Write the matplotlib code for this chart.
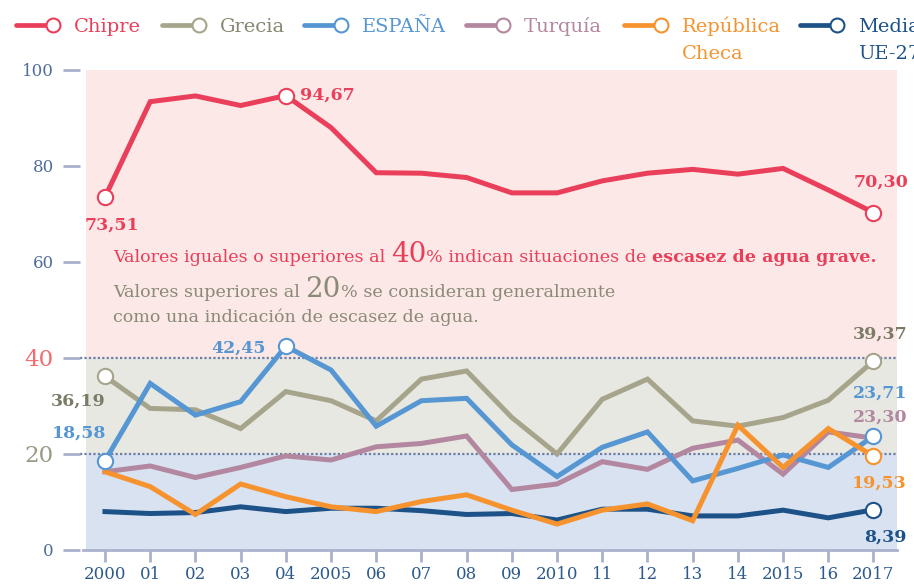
import matplotlib
matplotlib.use('Agg')
from matplotlib import pyplot as plt
from matplotlib.lines import Line2D
from matplotlib.transforms import IdentityTransform
import numpy as np

# datos
years = np.arange(2000, 2018)
year_labels = ['2000', '01', '02', '03', '04', '2005', '06', '07', '08', '09',
               '2010', '11', '12', '13', '14', '2015', '16', '2017']

chipre = [73.51, 93.4, 94.6, 92.6, 94.67, 88.0, 78.6, 78.5, 77.6, 74.4,
          74.4, 76.9, 78.5, 79.3, 78.3, 79.5, 75.0, 70.30]
grecia = [36.19, 29.5, 29.2, 25.3, 33.0, 31.1, 26.9, 35.6, 37.3, 27.6,
          20.0, 31.4, 35.6, 26.9, 25.8, 27.6, 31.2, 39.37]
espana = [18.58, 34.7, 28.1, 30.9, 42.45, 37.5, 25.8, 31.1, 31.6, 21.9,
          15.3, 21.4, 24.6, 14.4, 17.0, 19.8, 17.2, 23.71]
turquia = [16.3, 17.5, 15.1, 17.2, 19.6, 18.75, 21.5, 22.2, 23.75, 12.6,
           13.75, 18.4, 16.8, 21.2, 22.9, 15.8, 24.6, 23.30]
checa = [16.3, 13.2, 7.4, 13.75, 11.1, 9.0, 8.0, 10.1, 11.5, 8.3,
         5.4, 8.3, 9.6, 6.1, 26.0, 17.2, 25.3, 19.53]
media = [8.0, 7.6, 7.8, 9.0, 8.0, 8.7, 8.7, 8.2, 7.4, 7.6,
         6.25, 8.5, 8.5, 7.1, 7.1, 8.3, 6.7, 8.39]

C_RED = '#ea3f5a'
C_GRE = '#a6a58c'
C_ESP = '#5696d2'
C_TUR = '#b3879f'
C_CHE = '#f7932f'
C_MED = '#1d5289'

SERIF = ['DejaVu Serif']

W, H = 914, 584
fig = plt.figure(figsize=(W / 100, H / 100), dpi=100)
ax = fig.add_axes([86 / W, (H - 550) / H, (897 - 86) / W, 480 / H])

# zonas de fondo
ax.axhspan(40, 100, color='#fce8e6', zorder=0, lw=0)
ax.axhspan(20, 40, color='#e8e8e2', zorder=0, lw=0)
ax.axhspan(0, 20, color='#d8e2f0', zorder=0, lw=0)
for yv in (20, 40):
    ax.axhline(yv, xmin=-0.008, xmax=1, color='#6d7fa6', lw=1.6,
               ls=(0, (1, 1)), clip_on=False, zorder=1)
ax.axhline(0, xmin=-0.004, xmax=1, color='#aab1cc', lw=2, clip_on=False, zorder=1)

# series: (valores, color, índices con marcador)
series = [
    (grecia, C_GRE, [0, 17]),
    (turquia, C_TUR, []),
    (espana, C_ESP, [0, 4, 17]),
    (media, C_MED, [17]),
    (checa, C_CHE, [17]),
    (chipre, C_RED, [0, 4, 17]),
]
for i, (vals, col, marks) in enumerate(series):
    ax.plot(years, vals, color=col, lw=3.6, solid_joinstyle='miter', zorder=3 + i)
    vals = np.array(vals)
    ax.plot(years[marks], vals[marks], ls='none', marker='o', ms=11,
            mfc='white', mec=col, mew=1.5, zorder=10 + i)

ax.set_xlim(1999.58, 2017.52)
ax.set_ylim(0, 100)
for s in ax.spines.values():
    s.set_visible(False)
ax.spines['left'].set_position(('outward', 4.3))

ax.set_yticks([0, 20, 40, 60, 80, 100])
ax.set_yticklabels(['0', '20', '40', '60', '80', '100'])
ax.set_xticks(years)
ax.set_xticklabels(year_labels)
ax.tick_params(axis='y', length=12, width=2, color='#aab1cc', pad=7,
               labelsize=12, labelcolor='#4f6d9c')
ax.tick_params(axis='x', length=8.6, width=2, color='#aab1cc', pad=3,
               labelsize=12, labelcolor='#2c5a8c')
for lab in ax.get_yticklabels() + ax.get_xticklabels():
    lab.set_family(SERIF)
ylabs = ax.get_yticklabels()
ylabs[1].set_color('#9b9a86')
ylabs[1].set_fontsize(16.5)
ylabs[2].set_color('#f26b6e')
ylabs[2].set_fontsize(16.5)

# etiquetas de valores
def px(x, y):
    return x, H - y

lab_kw = dict(family=SERIF, fontweight='bold', fontsize=12.5,
              transform=IdentityTransform())
fig.text(*px(112, 225), '73,51', color=C_RED, ha='center', va='center', **lab_kw)
fig.text(*px(300, 95), '94,67', color=C_RED, ha='left', va='center', **lab_kw)
fig.text(*px(881, 182), '70,30', color=C_RED, ha='center', va='center', **lab_kw)
fig.text(*px(106, 401), '36,19', color='#7b7b68', ha='right', va='center', **lab_kw)
fig.text(*px(106, 433), '18,58', color=C_ESP, ha='right', va='center', **lab_kw)
fig.text(*px(266, 348), '42,45', color=C_ESP, ha='right', va='center', **lab_kw)
fig.text(*px(907, 334), '39,37', color='#7b7b68', ha='right', va='center', **lab_kw)
fig.text(*px(907, 393), '23,71', color=C_ESP, ha='right', va='center', **lab_kw)
fig.text(*px(907, 417), '23,30', color=C_TUR, ha='right', va='center', **lab_kw)
fig.text(*px(907, 483), '19,53', color=C_CHE, ha='right', va='center', **lab_kw)
fig.text(*px(907, 537), '8,39', color=C_MED, ha='right', va='center', **lab_kw)

# texto explicativo en trozos
renderer = fig.canvas.get_renderer()

def rich_line(x, y, pieces, color):
    for txt, size, weight in pieces:
        t = fig.text(*px(x, y), txt, color=color, fontsize=size, fontweight=weight,
                     family=SERIF, va='baseline', ha='left',
                     transform=IdentityTransform())
        x += t.get_window_extent(renderer).width

rich_line(113, 262, [('Valores iguales o superiores al ', 12.6, 'normal'),
                     ('40', 20, 'normal'),
                     ('% indican situaciones de ', 12.6, 'normal'),
                     ('escasez de agua grave.', 12.6, 'bold')], C_RED)
rich_line(113, 297, [('Valores superiores al ', 12.6, 'normal'),
                     ('20', 20, 'normal'),
                     ('% se consideran generalmente', 12.6, 'normal')], '#8a8a78')
rich_line(113, 322, [('como una indicación de escasez de agua.', 12.6, 'normal')], '#8a8a78')

# leyenda
legend_items = [['Chipre'], ['Grecia'], ['ESPAÑA'], ['Turquía'],
                ['República', 'Checa'], ['Media', 'UE-27']]
legend_cols = [C_RED, C_GRE, C_ESP, C_TUR, C_CHE, C_MED]
legend_text_cols = [C_RED, '#87876f', C_ESP, C_TUR, C_CHE, C_MED]
legend_cx = [53, 199, 341, 503, 661, 837]
for lines, col, tcol, cx in zip(legend_items, legend_cols, legend_text_cols, legend_cx):
    fig.add_artist(Line2D([cx - 37, cx - 6], [H - 25, H - 25], color=col, lw=3.4,
                          solid_capstyle='round', transform=IdentityTransform()))
    fig.add_artist(Line2D([cx], [H - 25], marker='o', ms=10, mfc='white', mec=col,
                          mew=1.5, transform=IdentityTransform()))
    for k, line in enumerate(lines):
        fig.text(*px(cx + 21, 32 + 27 * k), line, color=tcol, fontsize=14,
                 family=SERIF, va='baseline', ha='left',
                 transform=IdentityTransform())

fig.savefig('out.png', dpi=100)
